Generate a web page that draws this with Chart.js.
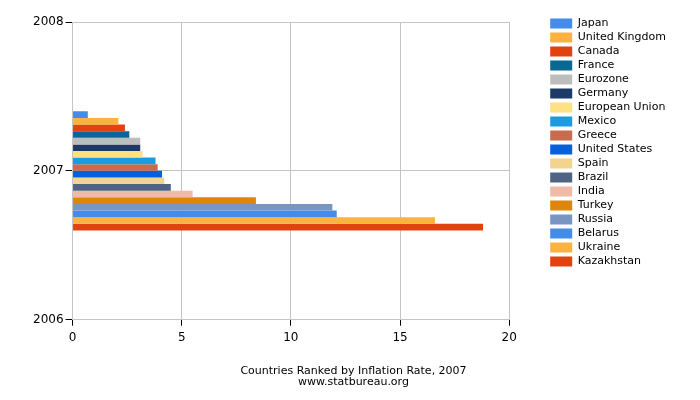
<!DOCTYPE html>
<html>
<head>
<meta charset="utf-8">
<script src="https://cdn.jsdelivr.net/npm/chart.js@4.4.0/dist/chart.umd.min.js"></script>
<style>
    html, body { margin: 0; padding: 0; background: #fff; }
    #wrap { width: 700px; height: 400px; }
</style>
</head>
<body>
<div id="wrap"><canvas id="inflationChart" width="700" height="400"></canvas></div>
<script>
// Category axis (top to bottom) and series
const years = ['2008', '2007', '2006'];
const countries = ['Japan', 'United Kingdom', 'Canada', 'France', 'Eurozone', 'Germany',
    'European Union', 'Mexico', 'Greece', 'United States', 'Spain', 'Brazil', 'India',
    'Turkey', 'Russia', 'Belarus', 'Ukraine', 'Kazakhstan'];
const rates2007 = [0.7, 2.1, 2.4, 2.6, 3.1, 3.1, 3.2, 3.8, 3.9, 4.1, 4.2, 4.5, 5.5,
    8.4, 11.9, 12.1, 16.6, 18.8];
const barColors = ['#438ce9', '#fbb240', '#e0430f', '#086893', '#bdbdbd', '#1c3a69',
    '#fee085', '#1a9cdf', '#c96b4d', '#0560db', '#f3d38d', '#4f6383', '#f0baa9',
    '#de850a', '#7995c2', '#438ce9', '#fbb240', '#e0430f'];
const xTicks = [0, 5, 10, 15, 20];

const FONT = 'DejaVu Sans, Verdana, sans-serif';

// one dataset per country, value only in the 2007 slot
const datasets = countries.map((name, i) => ({
    label: name,
    data: years.map(y => (y === '2007' ? rates2007[i] : null)),
    backgroundColor: barColors[i],
    borderWidth: 0
}));

// empty spacer axes, just to leave room round the plot
const spacer = (axis, position, size) => ({
    axis,
    position,
    display: true,
    grid: { display: false },
    border: { display: false },
    ticks: { display: false },
    afterFit: s => {
        if (axis === 'y') s.width = size;
        else s.height = size;
    }
});

const ctx = document.getElementById('inflationChart').getContext('2d');
new Chart(ctx, {
    type: 'bar',
    data: { labels: years, datasets },
    options: {
        responsive: false,
        animation: false,
        indexAxis: 'y',
        categoryPercentage: 0.8,
        barPercentage: 1.0,
        layout: { padding: { top: 15, left: 31, right: 24, bottom: 0 } },
        scales: {
            y: {
                type: 'category',
                offset: false,
                grid: { offset: false, color: '#c4c4c4', tickColor: '#000', tickLength: 7 },
                border: { color: '#c4c4c4' },
                ticks: { color: '#000', font: { family: FONT, size: 12 }, padding: 2 }
            },
            gapRight: spacer('y', 'right', 38),
            x: {
                type: 'linear',
                min: xTicks[0],
                max: xTicks[xTicks.length - 1],
                afterBuildTicks: s => { s.ticks = xTicks.map(v => ({ value: v })); },
                grid: { color: '#c4c4c4', tickColor: '#000', tickLength: 6 },
                border: { color: '#c4c4c4' },
                ticks: { color: '#000', font: { family: FONT, size: 12 }, padding: 5 }
            },
            gapTop: spacer('x', 'top', 7)
        },
        plugins: {
            legend: {
                position: 'right',
                align: 'start',
                maxWidth: 220,
                labels: {
                    boxWidth: 22,
                    boxHeight: 10,
                    padding: 3,
                    color: '#000',
                    font: { family: FONT, size: 11 }
                }
            },
            title: {
                display: true,
                position: 'bottom',
                text: ['Countries Ranked by Inflation Rate, 2007', 'www.statbureau.org'],
                color: '#000',
                font: { family: FONT, size: 11, weight: 'normal', lineHeight: 0.95 },
                padding: { top: 16, bottom: 13 }
            },
            tooltip: { enabled: false }
        }
    }
});
</script>
</body>
</html>
